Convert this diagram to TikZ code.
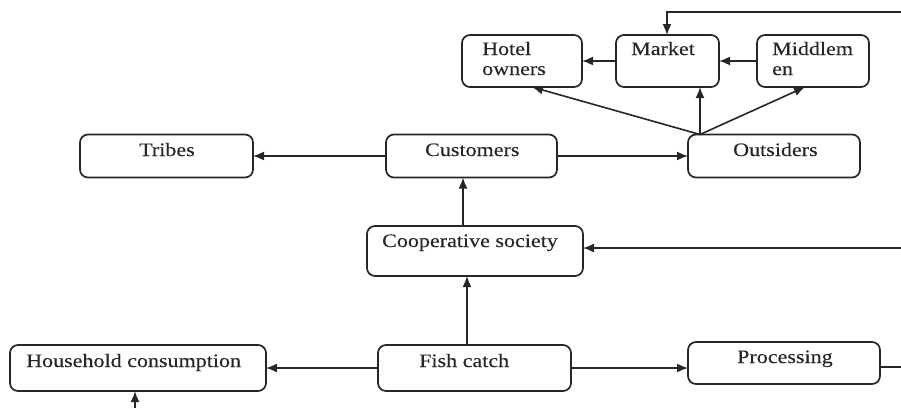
\documentclass[tikz,border=0pt]{standalone}
\usepackage{fontspec}
\setmainfont{Liberation Serif}[FakeStretch=1.16,FakeBold=0.2]
\usetikzlibrary{arrows.meta}
\begin{document}
\begin{tikzpicture}[x=1pt,y=-1pt,
  box/.style={draw=black!85,line width=1.7pt,rounded corners=8pt,inner sep=0pt,outer sep=0pt},
  txt/.style={anchor=base west,inner sep=0pt,font=\fontsize{19}{22}\selectfont,text=black!85},
  arr/.style={draw=black!85,line width=1.6pt,-{Latex[length=11pt,width=9pt]}},
  ln/.style={draw=black!85,line width=1.6pt}]
\useasboundingbox (0,0) rectangle (901,408);
% boxes
\node[box,minimum width=120,minimum height=52] (hotel) at (522,61) {};
\node[box,minimum width=103,minimum height=52] (market) at (667.5,61) {};
\node[box,minimum width=112,minimum height=52] (middle) at (813,61) {};
\node[box,minimum width=173,minimum height=43] (tribes) at (166.5,156) {};
\node[box,minimum width=171,minimum height=43] (cust) at (471.5,156) {};
\node[box,minimum width=172,minimum height=43] (outs) at (774,156) {};
\node[box,minimum width=216,minimum height=50] (coop) at (475,251) {};
\node[box,minimum width=256,minimum height=46] (hh) at (138,368) {};
\node[box,minimum width=193,minimum height=46] (fish) at (474.5,368) {};
\node[box,minimum width=192,minimum height=42] (proc) at (784,363) {};
% texts
\node[txt] (t1) at (482,55) {Hotel};
\node[txt] (t2) at (482,75) {owners};
\node[txt] (t3) at (631,55) {Market};
\node[txt] (t4) at (772,55) {Middlem};
\node[txt] (t5) at (772,75) {en};
\node[txt] (t6) at (139,156) {Tribes};
\node[txt] (t7) at (425,156) {Customers};
\node[txt] (t8) at (733,156) {Outsiders};
\node[txt] (t9) at (382,247) {Cooperative society};
\node[txt] (t10) at (26,367) {Household consumption};
\node[txt] (t11) at (419,367) {Fish catch};
\node[txt] (t12) at (737,363) {Processing};
% free ends
\coordinate (topin) at (901,12);
\coordinate (rin) at (901,248);
\coordinate (rout) at (901,367);
\coordinate (bin) at (135,408);
% connectors
\draw[arr] (topin) -| ([xshift=-0.5pt]market.north);
\draw[arr] (market.west) -- (hotel.east);
\draw[arr] (middle.west) -- (market.east);
\draw[arr] ([xshift=-74pt]outs.north) -- ([xshift=10pt]hotel.south);
\draw[arr] ([xshift=-74pt]outs.north) -- ([xshift=32.5pt]market.south);
\draw[arr] ([xshift=-74pt]outs.north) -- ([xshift=-8pt]middle.south);
\draw[arr] (cust.west) -- (tribes.east);
\draw[arr] (cust.east) -- (outs.west);
\draw[arr] ([xshift=-12pt]coop.north) -- ([xshift=-12pt]coop.north |- cust.south);
\draw[arr] ([xshift=-7.5pt]fish.north) -- ([xshift=-7.5pt]fish.north |- coop.south);
\draw[arr] (rin) -- (rin -| coop.east);
\draw[arr] (fish.west) -- (hh.east);
\draw[arr] (fish.east) -- (fish.east -| proc.west);
\draw[ln] (rout -| proc.east) -- (rout);
\draw[arr] (bin) -- (bin |- hh.south);
\end{tikzpicture}
\end{document}
